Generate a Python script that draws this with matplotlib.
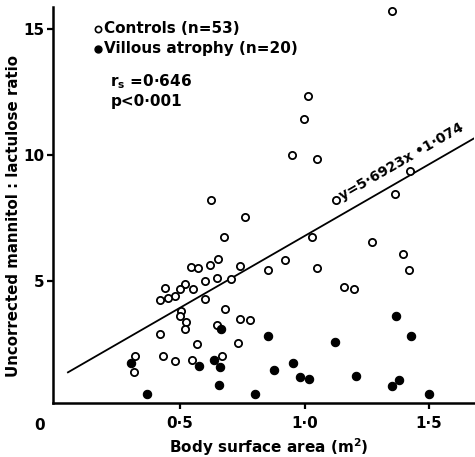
import matplotlib
matplotlib.use("Agg")
import matplotlib.pyplot as plt
import numpy as np

plt.rcParams['font.family'] = ['DejaVu Sans']
plt.rcParams['font.weight'] = 'bold'

# Controls (open circles)
ctrl_x = [1.350, 1.013, 0.999, 0.950, 1.050, 0.624, 0.760, 0.675, 1.031, 1.424,
          1.127, 1.363, 0.705, 0.741, 0.852, 0.920, 1.049, 1.271, 1.397, 1.420,
          1.160, 1.200, 0.741, 0.781, 0.732, 0.653, 0.620, 0.543, 0.572, 0.650,
          0.600, 0.521, 0.438, 0.500, 0.551, 0.481, 0.450, 0.420, 0.600, 0.503,
          0.500, 0.524, 0.520, 0.681, 0.647, 0.420, 0.567, 0.320, 0.430, 0.479,
          0.550, 0.669, 0.316]
ctrl_y = [15.71, 12.31, 11.41, 9.99, 9.81, 8.18, 7.53, 6.74, 6.71, 9.36,
          8.19, 8.42, 5.07, 5.58, 5.42, 5.80, 5.51, 6.53, 6.05, 5.43,
          4.75, 4.66, 3.46, 3.42, 2.51, 5.85, 5.60, 5.55, 5.51, 5.11,
          4.97, 4.87, 4.71, 4.68, 4.65, 4.38, 4.32, 4.21, 4.25, 3.79,
          3.58, 3.35, 3.09, 3.88, 3.23, 2.89, 2.47, 2.00, 2.02, 1.79,
          1.86, 2.02, 1.38]

# Villous atrophy (filled circles)
va_x = [0.665, 0.302, 0.578, 0.637, 0.661, 0.658, 0.369, 0.855, 1.121, 1.366,
        1.428, 0.879, 0.954, 0.982, 1.017, 1.206, 1.350, 1.381, 1.501, 0.802]
va_y = [3.06, 1.71, 1.61, 1.85, 1.58, 0.84, 0.50, 2.81, 2.56, 3.58,
        2.80, 1.46, 1.71, 1.17, 1.09, 1.22, 0.83, 1.05, 0.50, 0.50]

slope = 5.6923
intercept = 1.074
line_x = [0.05, 1.70]

xticks = [0.5, 1.0, 1.5]
xtick_labels = ['0·5', '1·0', '1·5']
yticks = [5, 10, 15]
ytick_labels = ['5', '10', '15']

fig = plt.figure(figsize=(4.75, 4.57), dpi=100)
ax = fig.add_axes([0.1116, 0.1175, 0.886, 0.867])

lx = np.array(line_x)
ax.plot(lx, slope * lx + intercept, color='black', lw=1.3, zorder=2)

ax.plot(ctrl_x, ctrl_y, 'o', ms=5.2, mfc='white', mec='black', mew=1.3, zorder=3)
ax.plot(va_x, va_y, 'o', ms=6, mfc='black', mec='black', mew=0.8, zorder=3)

ax.set_xlim(-0.01, 1.68)
ax.set_ylim(0.13, 15.85)

for s in ['top', 'right']:
    ax.spines[s].set_visible(False)
for s in ['left', 'bottom']:
    ax.spines[s].set_linewidth(1.8)

ax.set_xticks(xticks)
ax.set_xticklabels(xtick_labels, fontsize=11, fontweight='bold')
ax.set_yticks(yticks)
ax.set_yticklabels(ytick_labels, fontsize=11, fontweight='bold')
ax.tick_params(axis='x', direction='out', length=4, width=1.6, pad=5)
ax.tick_params(axis='y', direction='out', length=4, width=1.6, pad=2)

ax.set_xlabel('Body surface area (m$^\\mathbf{2}$)', fontsize=11, fontweight='bold')
ax.xaxis.label.set_va('center')
ax.xaxis.set_label_coords(0.513, -0.110)
ax.set_ylabel('Uncorrected mannitol : lactulose ratio', fontsize=10.8, fontweight='bold')
ax.yaxis.label.set_va('center')
ax.yaxis.set_label_coords(-0.095, 0.473)

fig.text(40 / 475, 1 - 425 / 457, '0', fontsize=11, fontweight='bold', ha='center', va='center')

# legend-like annotations
ax.plot([0.17], [15.0], 'o', ms=4.5, mfc='white', mec='black', mew=1.2, clip_on=False)
ax.text(0.195, 15.0, 'Controls (n=53)', fontsize=11, fontweight='bold', va='center')
ax.plot([0.17], [14.2], 'o', ms=5, mfc='black', mec='black', clip_on=False)
ax.text(0.195, 14.2, 'Villous atrophy (n=20)', fontsize=11, fontweight='bold', va='center')

ax.text(0.22, 12.9, '$\\mathbf{r_s}$ =0·646', fontsize=11, fontweight='bold', va='center')
ax.text(0.22, 12.1, 'p<0·001', fontsize=11, fontweight='bold', va='center')

ax.text(1.39, 9.7, 'y=5·6923x •1·074', fontsize=10, fontweight='bold',
        rotation=30, ha='center', va='center', rotation_mode='anchor')

fig.savefig('out.png', dpi=100)
